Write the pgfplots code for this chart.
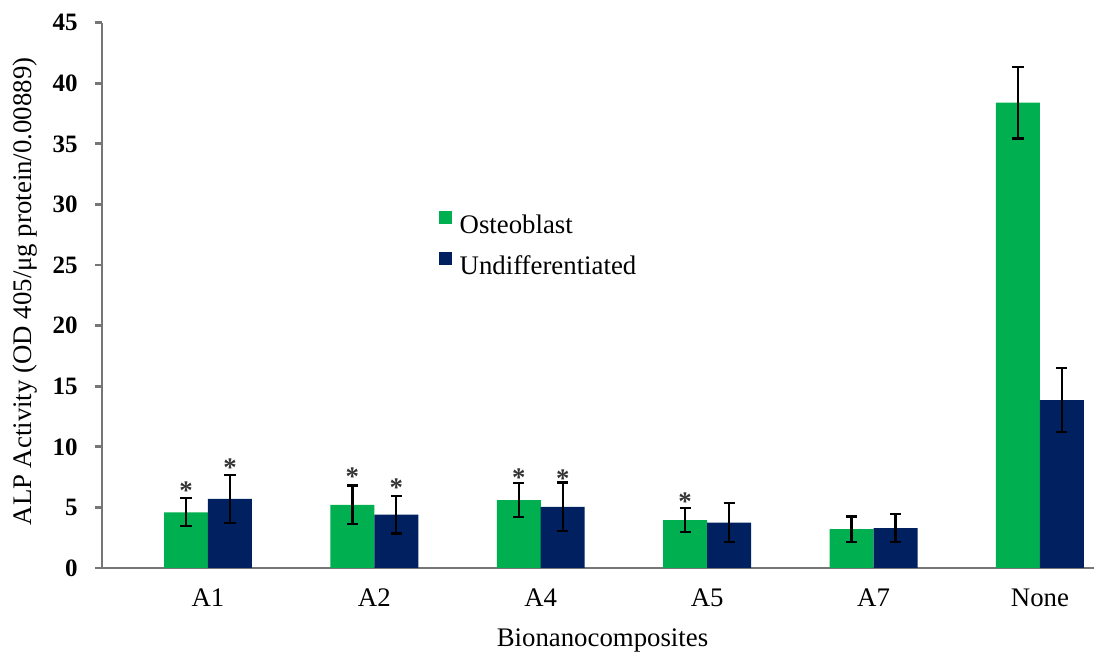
\documentclass[border=0pt]{standalone}
\usepackage{pgfplots}
\pgfplotsset{compat=1.18}
\usepackage{fontspec}
\setmainfont{Liberation Serif}
\definecolor{osteo}{HTML}{00B050}
\definecolor{undiff}{HTML}{002060}
\definecolor{axgray}{HTML}{767676}
\begin{document}
\begin{tikzpicture}
\begin{axis}[
  at={(0,0)}, anchor=south west,
  scale only axis, width=496pt, height=272.65pt,
  xmin=-0.637, xmax=5.325, ymin=0, ymax=45,
  axis x line*=bottom, axis y line*=left,
  axis line style={axgray, line width=1.4pt},
  xtick={0,1,2,3,4,5}, xticklabels={A1,A2,A4,A5,A7,None},
  x tick style={draw=none},
  ytick={0,5,...,45},
  y tick style={axgray, line width=1.4pt},
  tick align=outside, major tick length=3.5pt,
  /pgf/number format/assume math mode=true,
  xticklabel style={anchor=base, yshift=-16pt, font=\fontsize{13.4}{15}\selectfont},
  yticklabel style={anchor=east, inner sep=0pt, xshift=-8.5pt, font=\fontsize{12.5}{15}\selectfont\bfseries},
  legend style={at={(axis description cs:0.3390,0.655)}, anchor=north west,
    draw=none, fill=none, inner sep=0pt, font=\fontsize{13.4}{16}\selectfont,
    row sep=7.5pt, nodes={inner sep=0pt},
    /tikz/every odd column/.style={column sep=4pt}},
  legend cell align=left,
  legend image code/.code={\fill[#1] (0pt,0.8pt) rectangle (6.5pt,7.3pt);},
  clip=false,
]
\addplot[ybar, bar width=0.2644, bar shift=0pt, fill=osteo, draw=none,
  error bars/.cd, y dir=both, y explicit,
  error bar style={line width=1.1pt, black},
  error mark options={rotate=90, mark size=2.8pt, line width=1.1pt, black}]
  coordinates {
  (-0.132,4.6) +- (0,1.15)
  (0.868,5.2) +- (0,1.6)
  (1.868,5.6) +- (0,1.4)
  (2.868,3.95) +- (0,1.0)
  (3.868,3.2) +- (0,1.05)
  (4.868,38.4) +- (0,2.95)
  };
\addlegendentry{Osteoblast}
\addplot[ybar, bar width=0.2644, bar shift=0pt, fill=undiff, draw=none,
  error bars/.cd, y dir=both, y explicit,
  error bar style={line width=1.1pt, black},
  error mark options={rotate=90, mark size=2.8pt, line width=1.1pt, black}]
  coordinates {
  (0.132,5.7) +- (0,2.0)
  (1.132,4.4) +- (0,1.55)
  (2.132,5.05) +- (0,2.0)
  (3.132,3.75) +- (0,1.6)
  (4.132,3.3) +- (0,1.15)
  (5.132,13.85) +- (0,2.65)
  };
\addlegendentry{Undifferentiated}
\addplot[draw=none, mark=none, forget plot,
  nodes near coords={\textbf{*}},
  every node near coord/.style={anchor=center, yshift=-2.2pt, text=black!80,
    font=\fontsize{13.4}{16}\selectfont}]
  coordinates {
  (-0.132,6.77) (0.132,8.66)
  (0.868,7.92) (1.132,7.01)
  (1.868,7.84) (2.132,7.76)
  (2.868,5.86)
  };
\end{axis}
\node[rotate=90, font=\fontsize{13.4}{16}\selectfont] at (-38.5pt,138.25pt) {ALP Activity (OD 405/μg protein/0.00889)};
\node[anchor=base, font=\fontsize{13.4}{16}\selectfont] at (250.25pt,-39.5pt) {Bionanocomposites};
\pgfresetboundingbox
\path (-51pt,-42.5pt) rectangle (496pt,284pt);
\end{tikzpicture}
\end{document}
